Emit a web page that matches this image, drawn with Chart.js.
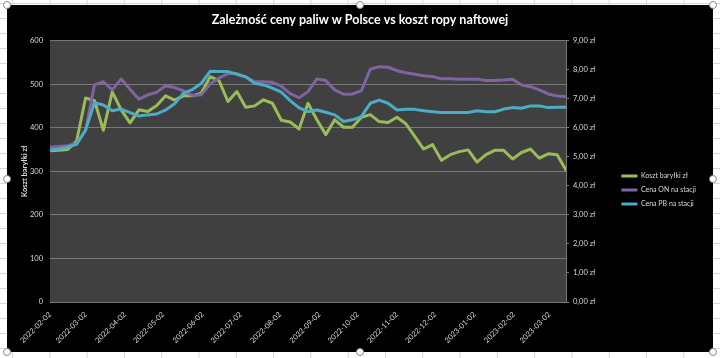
<!DOCTYPE html>
<html><head><meta charset="utf-8">
<script src="https://cdn.jsdelivr.net/npm/chart.js@4.4.1/dist/chart.umd.min.js"></script>
<style>
html,body{margin:0;padding:0;width:720px;height:358px;overflow:hidden;}
body{background-color:#fff;background-image:linear-gradient(to right,#d6d6d6 1px,transparent 1px),linear-gradient(to bottom,#d6d6d6 1px,transparent 1px);background-size:37.3px 15px,37.3px 15px;background-position:12px 0,0 3px;}
#box{position:absolute;left:7px;top:5px;width:706px;height:347px;background:#000;}
canvas{display:block;}
.h{position:absolute;width:6px;height:6px;border-radius:50%;background:#fff;border:1px solid #8a8a8a;}
</style></head>
<body>
<div id="box"><canvas id="c" width="706" height="347"></canvas></div>
<div class="h" style="left:3px;top:1px"></div>
<div class="h" style="left:356px;top:1px"></div>
<div class="h" style="left:709px;top:1px"></div>
<div class="h" style="left:3px;top:175px"></div>
<div class="h" style="left:709px;top:175px"></div>
<div class="h" style="left:3px;top:348px"></div>
<div class="h" style="left:356px;top:348px"></div>
<div class="h" style="left:709px;top:348px"></div>
<script>
const chartTitle = 'Zależność ceny paliw w Polsce vs koszt ropy naftowej';
const leftAxisTitle = 'Koszt baryłki zł';
const seriesNames = ['Koszt baryłki zł', 'Cena ON na stacji', 'Cena PB na stacji'];
const dates = [
 '2022-02-02','2022-02-09','2022-02-16','2022-02-23','2022-03-02','2022-03-09','2022-03-16','2022-03-23','2022-03-30',
 '2022-04-06','2022-04-13','2022-04-20','2022-04-27','2022-05-04','2022-05-11','2022-05-18','2022-05-25',
 '2022-06-01','2022-06-08','2022-06-15','2022-06-22','2022-06-29','2022-07-06','2022-07-13','2022-07-20','2022-07-27',
 '2022-08-03','2022-08-10','2022-08-17','2022-08-24','2022-08-31','2022-09-07','2022-09-14','2022-09-21','2022-09-28',
 '2022-10-05','2022-10-12','2022-10-19','2022-10-26','2022-11-02','2022-11-09','2022-11-16','2022-11-23','2022-11-30',
 '2022-12-07','2022-12-14','2022-12-21','2022-12-28','2023-01-04','2023-01-11','2023-01-18','2023-01-25',
 '2023-02-01','2023-02-08','2023-02-15','2023-02-22','2023-03-01','2023-03-08','2023-03-15'
];
const kosztBarylki = [347,348,350,370,468,462,394,482,441,411,441,437,451,473,463,473,473,479,517,508,460,483,447,450,464,456,417,413,397,456,418,384,418,401,401,424,430,414,412,424,409,380,351,361,325,338,345,349,321,338,348,348,328,343,351,330,340,338,303];
const cenaON = [5.33,5.35,5.38,5.47,5.90,7.47,7.58,7.30,7.68,7.32,6.98,7.13,7.22,7.44,7.38,7.27,7.11,7.13,7.50,7.71,7.86,7.86,7.75,7.58,7.58,7.56,7.43,7.17,7.03,7.24,7.68,7.62,7.30,7.15,7.16,7.27,8.01,8.10,8.08,7.96,7.89,7.84,7.79,7.76,7.68,7.68,7.67,7.67,7.67,7.62,7.62,7.64,7.67,7.47,7.41,7.30,7.16,7.09,7.07];
const cenaPB = [5.23,5.27,5.33,5.43,5.92,6.86,6.78,6.58,6.64,6.52,6.40,6.44,6.47,6.61,6.82,7.19,7.31,7.52,7.94,7.93,7.93,7.84,7.75,7.53,7.47,7.36,7.22,6.93,6.68,6.55,6.61,6.53,6.44,6.21,6.27,6.38,6.84,6.95,6.84,6.61,6.63,6.63,6.58,6.55,6.52,6.52,6.52,6.52,6.58,6.55,6.55,6.64,6.69,6.67,6.75,6.75,6.69,6.70,6.70];
const xTickLabels = ['2022-02-02','2022-03-02','2022-04-02','2022-05-02','2022-06-02','2022-07-02','2022-08-02','2022-09-02','2022-10-02','2022-11-02','2022-12-02','2023-01-02','2023-02-02','2023-03-02'];
const leftTicks = [0,100,200,300,400,500,600];
const rightTickLabels = ['0,00 zł','1,00 zł','2,00 zł','3,00 zł','4,00 zł','5,00 zł','6,00 zł','7,00 zł','8,00 zł','9,00 zł'];

const colors = ['#9BBB59', '#8064A2', '#4BACC6'];
const txt = '#d9d9d9';
const grid = '#787878';

function dayNum(s){ const p = s.split('-').map(Number); return Date.UTC(p[0], p[1]-1, p[2]) / 86400000; }
const base = dayNum(dates[0]);
const xv = d => dayNum(d) - base;
const pts = arr => dates.map((d,i) => ({x: xv(d), y: arr[i]}));

Chart.defaults.font.family = 'Lato';

const plotBg = {
  id: 'plotBg',
  beforeDraw(chart){
    const a = chart.chartArea, c = chart.ctx;
    c.save(); c.fillStyle = '#404040'; c.fillRect(a.left, a.top, a.right - a.left, a.bottom - a.top); c.restore();
  }
};

const ds = (i, arr, axis, order) => ({
  label: seriesNames[i], data: pts(arr), yAxisID: axis, order,
  borderColor: colors[i], backgroundColor: colors[i], borderWidth: 3,
  pointRadius: 0, tension: 0, fill: false, borderJoinStyle: 'round', borderCapStyle: 'round'
});

new Chart(document.getElementById('c'), {
  type: 'line',
  data: { datasets: [ ds(0, kosztBarylki, 'y', 3), ds(1, cenaON, 'y1', 2), ds(2, cenaPB, 'y1', 1) ] },
  plugins: [plotBg],
  options: {
    responsive: false, animation: false, devicePixelRatio: 1,
    layout: { padding: { left: 7, right: 7, top: 0, bottom: 0 } },
    plugins: {
      tooltip: { enabled: false },
      title: { display: true, text: chartTitle, color: '#ffffff', font: { size: 12.5, weight: 'bold' }, padding: { top: 7, bottom: 13.5 } },
      legend: {
        position: 'right', align: 'center',
        title: { display: true, text: '', font: { size: 7 }, padding: { top: 14.6, bottom: 0 } },
        labels: { color: txt, font: { size: 7 }, usePointStyle: true, pointStyle: 'line', pointStyleWidth: 16, padding: 7,
          sort: (a, b) => a.datasetIndex - b.datasetIndex }
      }
    },
    scales: {
      x: {
        type: 'linear', min: xv(dates[0]), max: xv(dates[dates.length-1]),
        afterBuildTicks: s => { s.ticks = xTickLabels.map(d => ({ value: xv(d) })); },
        afterFit: s => { s.height = 50; },
        ticks: { callback: (v, i) => xTickLabels[i], autoSkip: false, minRotation: 45, maxRotation: 45, padding: 8, color: txt, font: { size: 7.5 } },
        grid: { display: false, drawTicks: false }, border: { display: false }
      },
      y: {
        position: 'left', min: 0, max: 600,
        afterBuildTicks: s => { s.ticks = leftTicks.map(v => ({ value: v })); },
        afterFit: s => { s.width = 36; },
        ticks: { color: txt, font: { size: 7.5 }, padding: 7 },
        grid: { color: grid, lineWidth: 1, drawTicks: false }, border: { display: false },
        title: { display: true, text: leftAxisTitle, color: txt, font: { size: 7.5, weight: 'bold' }, padding: { top: 6, bottom: 0 } }
      },
      y1: {
        position: 'right', min: 0, max: 9,
        afterBuildTicks: s => { s.ticks = rightTickLabels.map((l, i) => ({ value: i })); },
        afterFit: s => { s.width = s.chart.width - 7 - s.chart.legend.width - 559; },
        ticks: { callback: (v, i) => rightTickLabels[i], color: txt, font: { size: 7.5 }, padding: 4 },
        grid: { drawOnChartArea: false, color: grid, tickLength: 3 }, border: { display: true, color: grid }
      }
    }
  }
});
</script>
</body></html>
